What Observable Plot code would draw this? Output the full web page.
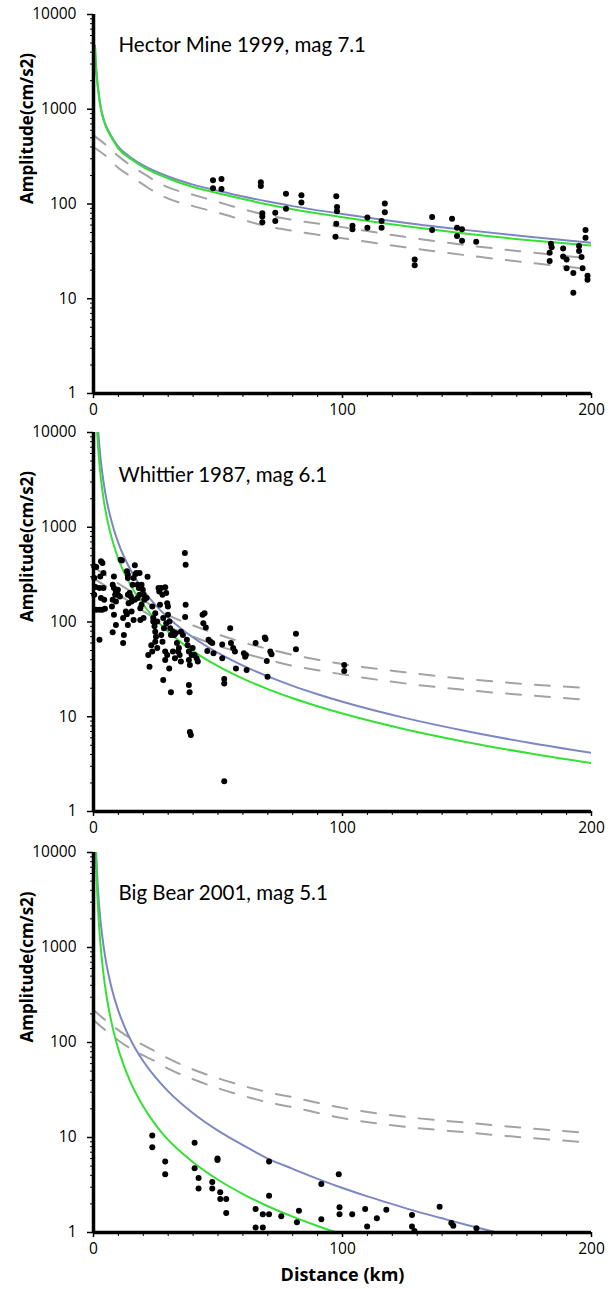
<!DOCTYPE html>
<html><head><meta charset="utf-8">
<script src="https://cdn.jsdelivr.net/npm/d3@7"></script>
<script src="https://cdn.jsdelivr.net/npm/@observablehq/plot@0.6"></script>
<style>body{margin:0;background:#fff}#chart{width:613px}#chart svg{display:block}</style>
</head><body><div id="chart"></div>
<script>
// ---- tick values ----
const yTicks = [1, 10, 100, 1000, 10000];
const yMinorTicks = [2,3,4,5,6,7,8,9,20,30,40,50,60,70,80,90,200,300,400,500,600,700,800,900,2000,3000,4000,5000,6000,7000,8000,9000];
const xTicks = [0, 100, 200];
const xMinorTicks = [10,20,30,40,50,60,70,80,90,110,120,130,140,150,160,170,180,190];
const yLabel = "Amplitude(cm/s2)";
const xLabel = "Distance (km)";
const titles = ["Hector Mine 1999, mag 7.1", "Whittier 1987, mag 6.1", "Big Bear 2001, mag 5.1"];

// ---- Hector Mine: [distance km, amplitude cm/s2] ----
const hectorBlue = [[0.6,4700],[1,2900],[1.5,2000],[2,1550],[2.5,1230],[3,1020],[4,800],[5,670],[7,530],[10,400],[15,310],[20,255],[30,195],[40,160],[50,138],[60,120],[70,106],[80,95],[100,78.5],[125,63.5],[150,53],[175,45],[200,39]];
const hectorGreen = [[0.6,4500],[1,2800],[1.5,1950],[2,1500],[2.5,1190],[3,990],[4,775],[5,650],[7,515],[10,385],[15,298],[20,245],[30,186],[40,151],[50,130],[60,113],[70,99],[80,88],[100,72.5],[125,58.5],[150,48.5],[175,41.5],[200,36.5]];
const hectorUpper = [[0,530],[5,420],[10,320],[15,255],[20,210],[25,175],[30,150],[40,125],[50,105],[60,88],[70,76],[80,68],[100,57],[125,45],[150,36.7],[175,31],[200,26.5]];
const hectorLower = [[0,400],[5,320],[10,240],[15,195],[20,160],[25,132],[30,114],[40,95],[50,81],[60,68],[70,58],[80,52],[100,43.5],[125,35],[150,28.7],[175,24],[200,20.5]];
const hectorPoints = [[48,178],[48,147],[51.4,184],[51.4,144],[67.2,170],[67.2,155],[67.8,80],[67.8,74],[67.8,64],[73,81],[73,66],[77.3,128],[77.3,89],[83.5,124],[83.5,104],[97.5,121],[97.8,93],[97.8,84],[97.5,62],[97.2,45],[104,59],[104,54],[110,72],[110,56],[115.7,66],[115.7,56],[117,101],[117,82],[129,26],[129,22.6],[136,73],[136,53],[144,70],[146,56],[146,46],[148,54],[148,41],[153.7,40],[183.7,38],[184,35],[183.2,30.6],[183.2,25],[188.6,34],[188.6,28],[190,26],[190,21],[192.7,18.7],[192.7,11.6],[195,36],[195,32],[196,27.5],[196.4,21],[197.6,53],[197.6,44],[198.4,17.5],[198.4,15.9]];

// ---- Whittier ----
const whittierBlue = [[1.93,10000],[2,9440],[3,4870],[4,3040],[5,2110],[6,1570],[8,980],[10,680],[15,349],[20,217],[25,150],[30,111],[35,86],[40,68.6],[50,47.1],[60,34.6],[70,26.7],[80,21.2],[90,17.3],[100,14.4],[125,9.73],[150,7.03],[175,5.31],[200,4.15]];
const whittierGreen = [[1.47,10000],[2,6130],[3,3200],[4,2020],[5,1410],[6.2,1000],[8,665],[10,464],[15,242],[20,152],[25,106],[30,78.8],[35,61.3],[40,49.3],[50,34.2],[60,25.3],[70,19.6],[80,15.7],[90,12.9],[100,10.8],[125,7.38],[150,5.39],[175,4.12],[200,3.25]];
const whittierUpper = [[0,380],[5,310],[10,255],[15,210],[20,170],[25,140],[30,118],[40,92],[50,74],[60,61],[70,52],[80,45],[90,40],[100,36],[125,29.5],[150,25],[175,22],[200,20]];
const whittierLower = [[0,290],[5,238],[10,196],[15,160],[20,130],[25,107],[30,90],[40,70],[50,56],[60,47],[70,40],[80,34.5],[90,31],[100,28],[125,22.5],[150,19.1],[175,16.8],[200,15]];
const whittierPoints = [[0.3,387],[1.1,381],[0.3,291],[0.8,234],[0.3,194],[1.1,135],[2.4,135],[2.4,65],[3.0,437],[3.6,420],[2.7,303],[4.0,329],[2.4,228],[4.0,228],[3.0,179],[4.3,172],[3.5,135],[4.6,138],[8.2,303],[7.7,248],[8.2,228],[8.7,194],[7.7,172],[9.0,210],[9.8,219],[9.0,165],[7.4,146],[8.2,119],[9.0,93],[7.7,78],[9.8,194],[10.6,186],[10.9,455],[11.4,445],[11.9,110],[12.2,73],[11.9,60],[13.0,129],[13.4,121],[13.4,343],[13.8,316],[13.8,194],[14.1,158],[13.8,93],[13.8,291],[14.5,202],[15.0,186],[15.3,165],[15.7,248],[16.1,291],[16.6,397],[16.9,321],[17.2,329],[17.7,248],[18.2,228],[18.5,194],[18.8,140],[15.3,129],[16.1,105],[16.6,172],[17.7,179],[18.5,329],[19.3,248],[19.8,219],[20.1,194],[20.4,172],[21.3,179],[19.3,152],[20.1,110],[18.8,105],[21.7,301],[22.0,44.9],[22.5,33.8],[23.2,57],[23.6,48.7],[24.0,101],[24.5,90],[24.8,79],[25.1,70],[24.0,110],[24.8,62],[25.6,53],[26.1,228],[26.4,210],[23.6,146],[24.8,124],[25.6,101],[26.7,152],[27.2,228],[27.7,194],[28.8,232],[29.2,202],[29.6,158],[28.0,110],[28.3,86],[27.2,73],[27.7,62],[28.8,48.7],[29.9,146],[29.9,119],[30.5,101],[30.8,86],[31.1,73],[29.6,44.9],[30.4,32.4],[31.1,18.1],[28.0,24.4],[28.8,39.7],[29.2,97],[31.9,79],[32.4,73],[31.9,48.7],[32.7,41.4],[33.5,60],[34.0,48.7],[34.3,53],[34.6,44.9],[35.1,38.2],[35.9,73],[35.1,79],[33.0,76],[36.7,536],[37.0,403],[37.0,152],[36.8,113],[37.5,65],[37.8,57],[38.3,48.7],[38.3,39.7],[38.7,35.2],[38.3,21.6],[38.6,18.1],[38.7,6.9],[39.1,6.4],[39.4,44.9],[39.8,53],[40.6,44.9],[41.4,41.4],[41.9,38.2],[43.8,119],[44.6,124],[44.1,97],[45.1,87.5],[46.2,65],[47.0,62],[47.7,60],[48.2,46.8],[45.7,49.5],[51.7,58],[51.7,41.4],[52.5,25],[52.5,22.5],[52.5,2.08],[54.9,86],[55.2,60],[56.1,53],[56.8,48.7],[57.2,32.4],[60.4,46.8],[60.9,43],[61.2,44.9],[61.5,31.1],[65.1,60],[68.8,68.5],[69.1,66],[69.6,38.8],[69.9,26.5],[71.0,48.7],[71.5,45.6],[81.3,75],[81.3,51.5],[100.7,35.2],[100.7,30.4]];

// ---- Big Bear ----
const bigBearBlue = [[1.07,10000],[1.5,5610],[2,3430],[3,1720],[4,1050],[5,714],[7,400],[10,215],[13,136],[16,94],[20,63.5],[25,42.6],[30,30.6],[40,18],[50,11.8],[60,8.3],[70,6.0],[80,4.68],[90,3.67],[100,2.94],[110,2.4],[120,1.99],[130,1.66],[140,1.41],[150,1.2],[162,1.0]];
const bigBearGreen = [[0.92,10000],[1,8460],[1.5,3760],[2,2116],[3,940],[4,529],[5,338],[7,173],[9.2,100],[12,58.8],[15,37.6],[20,21.2],[25,13.5],[28,10.8],[35,7.06],[40,5.49],[50,3.59],[60,2.54],[70,1.89],[80,1.47],[90,1.17],[97.5,1.0]];
const bigBearUpper = [[0,220],[5,170],[10,135],[15,110],[20,94],[25,80],[30,68],[40,52],[50,42],[60,35],[70,30],[80,26.5],[100,20.5],[125,16.5],[150,14.3],[175,12.5],[200,11.1]];
const bigBearLower = [[0,172],[5,133],[10,105],[15,86],[20,73],[25,63],[30,53],[40,41],[50,33],[60,27.5],[70,23.5],[80,20.8],[100,16],[125,13],[150,11.3],[175,9.9],[200,8.8]];
const bigBearPoints = [[23.6,10.5],[23.6,7.9],[28.8,5.6],[28.8,4.1],[40.6,8.8],[40.6,4.75],[42.2,3.75],[42.2,2.9],[47.7,3.4],[47.7,2.9],[49.8,6.0],[49.8,5.8],[50.9,2.65],[50.9,2.25],[53.3,2.25],[53.3,1.6],[65.1,1.77],[65.1,1.13],[68.0,1.56],[68.0,1.13],[70.5,5.6],[70.5,2.44],[70.5,1.56],[75.4,1.48],[81.7,1.28],[82.5,1.69],[91.5,3.24],[91.5,1.38],[98.5,4.1],[98.8,1.84],[98.8,1.56],[103.9,1.56],[109.1,1.77],[109.9,1.16],[113.8,1.41],[117.6,1.74],[127.9,1.53],[127.9,1.16],[128.9,1.04],[139,1.87],[143.7,1.26],[144.5,1.18],[153.8,1.11]];

const BLUE = "#7c87c2", GREEN = "#35e035", GRAY = "#a3a3a3";
const X = p => p[0], Y = p => p[1];

function panel({title, blue, green, upper, lower, points, height, marginTop, marginBottom, titleDx, titleDy, showXLabel}) {
  const marks = [
    Plot.line(upper, {x: X, y: Y, stroke: GRAY, strokeWidth: 2, strokeDasharray: "15,14", curve: "monotone-x", clip: true}),
    Plot.line(lower, {x: X, y: Y, stroke: GRAY, strokeWidth: 2, strokeDasharray: "15,14", curve: "monotone-x", clip: true}),
    Plot.line(blue, {x: X, y: Y, stroke: BLUE, strokeWidth: 2, curve: "monotone-x", clip: true}),
    Plot.line(green, {x: X, y: Y, stroke: GREEN, strokeWidth: 2, curve: "monotone-x", clip: true}),
    Plot.dot(points, {x: X, y: Y, r: 3, fill: "#000", stroke: null}),
    Plot.axisY(yMinorTicks, {tickSize: 3, tickFormat: () => "", label: null, strokeWidth: 1}),
    Plot.axisY(yTicks, {tickSize: 6, tickPadding: 11, tickFormat: d => String(d), label: null, strokeWidth: 1.5, fontSize: 15.5}),
    Plot.axisX(xMinorTicks, {tickSize: 4, tickFormat: () => "", label: null, strokeWidth: 1}),
    Plot.axisX(xTicks, {tickSize: 5, tickPadding: 5, tickFormat: d => String(d), label: null, strokeWidth: 1.5, fontSize: 15.5}),
    Plot.ruleX([0], {stroke: "#000", strokeWidth: 3.5}),
    Plot.ruleY([1], {stroke: "#000", strokeWidth: 3.5}),
    Plot.text([title], {frameAnchor: "top-left", dx: titleDx, dy: titleDy, textAnchor: "start", lineAnchor: "middle", fontSize: 20.5, fontFamily: "Lato, 'Open Sans', sans-serif", fill: "#000"}),
    Plot.text([yLabel], {frameAnchor: "left", rotate: -90, dx: -66, fontWeight: "bold", fontSize: 17, fill: "#000"})
  ];
  if (showXLabel) marks.push(Plot.text([xLabel], {frameAnchor: "bottom", dy: 43, lineAnchor: "middle", fontWeight: "bold", fontSize: 18, fill: "#000"}));
  return Plot.plot({
    width: 613, height, marginLeft: 93, marginRight: 22, marginTop, marginBottom,
    style: {fontFamily: "'Open Sans', sans-serif", fontSize: "15.5px", color: "#000", background: "#fff", overflow: "visible"},
    x: {domain: [0, 200], axis: null},
    y: {type: "log", domain: [1, 10000], axis: null},
    marks
  });
}

const chart = document.getElementById("chart");
chart.append(panel({title: titles[0], blue: hectorBlue, green: hectorGreen, upper: hectorUpper, lower: hectorLower, points: hectorPoints, height: 420, marginTop: 14, marginBottom: 27, titleDx: 25, titleDy: 31}));
chart.append(panel({title: titles[1], blue: whittierBlue, green: whittierGreen, upper: whittierUpper, lower: whittierLower, points: whittierPoints, height: 420, marginTop: 12, marginBottom: 29, titleDx: 25, titleDy: 43}));
chart.append(panel({title: titles[2], blue: bigBearBlue, green: bigBearGreen, upper: bigBearUpper, lower: bigBearLower, points: bigBearPoints, height: 449, marginTop: 12, marginBottom: 57, titleDx: 25, titleDy: 41, showXLabel: true}));
</script>
</body></html>
